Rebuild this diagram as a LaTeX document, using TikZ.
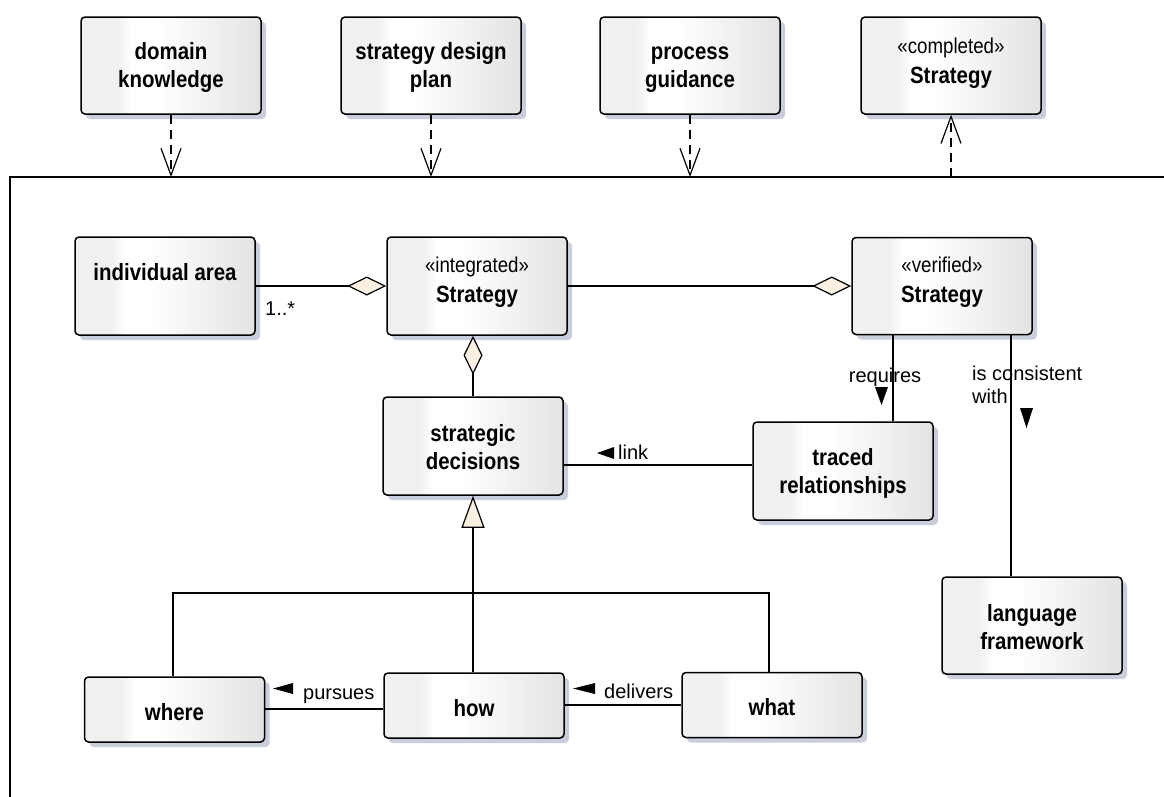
\documentclass[tikz,border=0pt]{standalone}
\usepackage{fontspec}
\setmainfont{Liberation Sans}[FakeStretch=0.87]
\newfontfamily\labelfamily{Liberation Sans}
\usetikzlibrary{arrows.meta,shadows}
\definecolor{shadowc}{HTML}{CACEDC}
\definecolor{cream}{HTML}{FAF0E1}
\definecolor{shadeL}{HTML}{F0F0F0}
\definecolor{shadeR}{HTML}{E3E3E3}
\pgfdeclarehorizontalshading{boxshade}{100bp}{color(0bp)=(shadeL); color(25bp)=(shadeL); color(35bp)=(shadeL); color(39bp)=(white); color(46bp)=(white); color(75bp)=(shadeR); color(100bp)=(shadeR)}
\newcommand\namefont{\bfseries\fontsize{23.5}{28.5}\selectfont}
\newcommand\stereofont{\fontsize{21.5}{30}\selectfont}
\newcommand\labfont{\labelfamily\fontsize{20}{23}\selectfont}
\newcommand\mlines[1]{\begin{tabular}[t]{@{}c@{}}#1\end{tabular}}
\newcommand\llines[1]{\begin{tabular}[t]{@{}l@{}}#1\end{tabular}}
\begin{document}
\begin{tikzpicture}[x=1pt,y=-1pt,
  umlbox/.style={draw, line width=1.5pt, rounded corners=4pt,
    minimum width=180pt, minimum height=#1, inner sep=0pt,
    shading=boxshade,
    drop shadow={shadow xshift=5pt, shadow yshift=-5pt, fill=shadowc, opacity=1}},
  umlbox/.default=97pt,
  nametext/.style={inner sep=0pt, anchor=base, font=\namefont},
  stereotext/.style={inner sep=0pt, anchor=base, font=\stereofont},
  labtext/.style={inner sep=0pt, font=\labfont},
  conn/.style={line width=1.2pt},
  depline/.style={conn, dash pattern=on 9pt off 6pt,
    -{Straight Barb[length=27pt,width=20pt,line width=1.2pt]}},
  aggline/.style={conn, -{Diamond[length=39pt,width=19pt,fill=cream,line width=1.2pt]}},
  genline/.style={conn, -{Triangle[length=32pt,width=23pt,fill=cream,line width=1.2pt]}},
  dirmark/.style={fill=black}
]
\clip (0,0) rectangle (1164,796);
\fill[white] (0,0) rectangle (1164,796);

% enclosing frame
\draw[line width=1.5pt] (1180,177) -| (10,820);

% outer elements
\node[umlbox] (dk)  at (171,65.5) {};
\node[umlbox] (sdp) at (431,65.5) {};
\node[umlbox] (pg)  at (690,65.5) {};
\node[umlbox] (cs)  at (951,65.5) {};
\node[nametext] (dk-t)  at ([yshift=-43pt]dk.north)  {\mlines{domain\\knowledge}};
\node[nametext] (sdp-t) at ([yshift=-43pt]sdp.north) {\mlines{strategy design\\plan}};
\node[nametext] (pg-t)  at ([yshift=-43pt]pg.north)  {\mlines{process\\guidance}};
\node[stereotext] (cs-t) at ([yshift=-37pt]cs.north) {\mlines{«completed»\\\namefont Strategy}};

% inner elements
\node[umlbox=98pt] (ia)   at (165,286) {};
\node[umlbox=98pt] (ints) at (477,286) {};
\node[umlbox]      (vs)   at (942,286) {};
\node[umlbox=98pt] (sd)   at (473,446) {};
\node[umlbox=98pt] (tr)   at (843,471) {};
\node[umlbox]      (lf)   at (1032,625.5) {};
\node[umlbox=65pt] (wh)   at (174.5,709.5) {};
\node[umlbox=65pt] (how)  at (474,705.5) {};
\node[umlbox=65pt] (what) at (772,705) {};

\node[nametext] (ia-t)   at ([yshift=-44pt]ia.north)   {individual area};
\node[stereotext] (ints-t) at ([yshift=-36pt]ints.north) {\mlines{«integrated»\\\namefont Strategy}};
\node[stereotext] (vs-t)   at ([yshift=-36pt]vs.north)   {\mlines{«verified»\\\namefont Strategy}};
\node[nametext] (sd-t)   at ([yshift=-45pt]sd.north)   {\mlines{strategic\\decisions}};
\node[nametext] (tr-t)   at ([yshift=-44pt]tr.north)   {\mlines{traced\\relationships}};
\node[nametext] (lf-t)   at ([yshift=-45pt]lf.north)   {\mlines{language\\framework}};
\node[nametext] (wh-t)   at ([yshift=-44pt]wh.north)   {where};
\node[nametext] (how-t)  at ([yshift=-44pt]how.north)  {how};
\node[nametext] (what-t) at ([yshift=-44pt]what.north) {what};

% dependencies on the frame
\coordinate (f1) at (dk.south |- 0,177);
\coordinate (f2) at (sdp.south |- 0,177);
\coordinate (f3) at (pg.south |- 0,177);
\coordinate (f4) at (cs.south |- 0,177);
\draw[depline] (dk.south) -- (f1);
\draw[depline] (sdp.south) -- (f2);
\draw[depline] (pg.south) -- (f3);
\draw[depline] (f4) -- (cs.south);

% aggregations
\draw[aggline] (ia.east) -- (ints.west);
\draw[aggline] (ints.east) -- (vs.west);
\draw[aggline] (sd.north) -- (sd.north |- ints.south);
\node[labtext, anchor=base west] (mult) at (265,315) {1..*};

% associations
\draw[conn] (tr.west |- 0,465) -- (sd.east |- 0,465);
\fill[dirmark] (597,453) -- (614,447) -- (614,459) -- cycle;
\node[labtext, anchor=base west] (link) at (618,459) {link};

\draw[conn] (893,0 |- vs.south) -- (893,0 |- tr.north);
\node[labtext, anchor=base] (req) at (885,382) {requires};
\fill[dirmark] (875,387) -- (888,387) -- (881.5,405) -- cycle;

\draw[conn] (1011,0 |- vs.south) -- (1011,0 |- lf.north);
\node[labtext, anchor=base west] (cons) at (972,380) {\llines{is consistent\\with}};
\fill[dirmark] (1020,408) -- (1033,408) -- (1026.5,428) -- cycle;

\draw[conn] (wh.east |- 0,709) -- (how.west |- 0,709);
\fill[dirmark] (273,688.5) -- (293,683) -- (293,694) -- cycle;
\node[labtext, anchor=base west] (purs) at (303,699) {pursues};

\draw[conn] (how.east |- 0,705) -- (what.west |- 0,705);
\fill[dirmark] (573,688.5) -- (595,683) -- (595,694) -- cycle;
\node[labtext, anchor=base west] (deliv) at (604,698) {delivers};

% generalization
\coordinate (bus) at (473,593);
\draw[conn] (173,0 |- wh.north) |- (bus) -| (769,0 |- what.north);
\draw[genline] (473,0 |- how.north) -- (473,0 |- sd.south);
\end{tikzpicture}
\end{document}
